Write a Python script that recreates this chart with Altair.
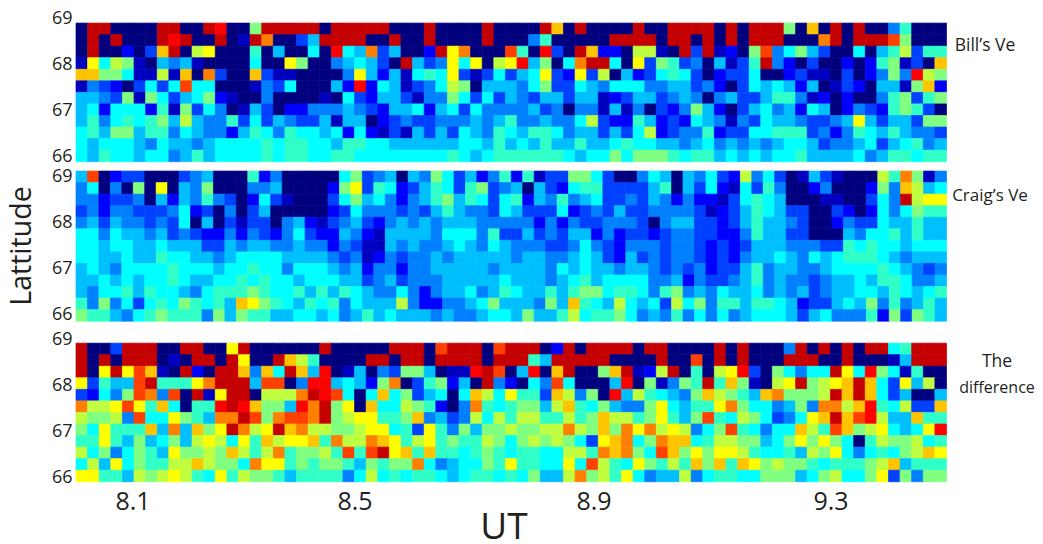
import altair as alt
import pandas as pd

JET = ["#00007f", "#0000bf", "#0000ff", "#0040ff", "#0080ff", "#00bfff", "#00ffff", "#30ffc8",
       "#80ff80", "#bfff40", "#ffff00", "#ffc400", "#ff8000", "#ff4000", "#ff0000", "#c40000"]

BILL = [
    "0ff00 00ff0 0fe00 8ffff f0fff ff000 f0000 f0000 fb0f0 000f0 0ffff 0f0ff f80b0 f0f00 47000",
    "0f0f0 00fef 00f01 fc003 5ffff 00f00 f0000 f0004 70000 0ffff 0ff0f 0f0ff f000c f0fff d8000",
    "0f002 03bf0 9a000 70500 60e65 c3500 2fac0 00d70 e30fb 22099 10f3f 1208d 46853 00605 79377",
    "1a698 10545 10000 600a8 00456 530f5 34a6a 09ae5 806cf f60a3 87340 5137f 42030 02027 8130b",
    "bb886 1191b 0c300 b3110 0004a 52516 76a31 36356 a32a3 90523 67630 23360 02311 03024 84e98",
    "14320 3636d 66000 14360 0052e 26513 46980 55546 83365 46664 45534 20365 65250 13205 518b2",
    "55438 18635 68210 04000 01063 25531 44863 63543 55355 12355 34540 45335 77412 02004 78378",
    "56266 62718 36401 53022 44454 32556 25636 44445 34044 15140 32485 20356 45265 02432 78730",
    "57467 67859 54473 63543 35155 02343 34445 45744 54469 32275 23265 41436 55433 45a53 55388",
    "67588 57746 54425 76476 65626 21315 35365 47657 76455 35369 23447 23366 77734 24765 75443",
    "65666 54655 45666 67677 66577 66555 55566 57565 75575 56766 55456 45454 56653 44563 56745",
    "65766 56645 75666 67677 66776 66666 66765 67777 77656 68688 87677 56565 66755 55645 77677",
]

CRAIG = [
    "5d023 30003 45000 72400 00068 34505 48635 24727 13388 63004 65054 63294 63015 31000 97c81 4",
    "46040 80a05 48000 44500 0028a 37623 57637 83450 53267 73333 57053 62163 74002 40002 84b95 6",
    "44233 40525 47430 26310 00368 56424 57857 63672 54745 63343 54242 21367 65000 11003 64f9a a",
    "34244 33346 23040 35000 00236 44434 35754 43653 33623 43533 44443 12357 65330 03202 64687 7",
    "45354 43436 05031 33045 21345 32454 54555 44444 24243 34443 04553 32357 55430 02433 65575 5",
    "66465 54534 32242 43246 32254 21555 54666 47335 34355 24233 23443 32247 55330 00546 67575 5",
    "66566 55655 53354 55445 44243 11545 44565 46544 43346 43244 43443 23235 55444 33767 66566 6",
    "66556 55766 55456 66655 55434 12434 45455 55545 54456 53253 43443 23245 56546 56777 65455 5",
    "56546 66676 66566 76646 66545 24424 45555 54555 54656 55455 43434 23357 45544 56666 76543 4",
    "55656 56676 55667 67665 66655 34534 44555 55655 54567 56666 44524 33457 45443 45565 77644 5",
    "54667 57665 46777 87667 57576 54464 24556 45765 57578 86776 47845 46556 45453 45566 57656 7",
    "74846 36768 7675b a8765 76746 55594 22445 68555 485b7 65965 63968 47757 76523 35658 47457 5",
    "87754 67877 74858 77556 65645 75655 54544 56658 55796 77864 54746 46456 66535 64447 28387 5",
]

DIFF = [
    "f003f ff00f f00af 00000 0f000 00fff 0dfff 0dfff 02f0f fff0f f0000 f0f00 04f0f 0f0ff 67fff",
    "f0f0f ff010 ff0fa 00fb9 70000 ff0ff 0ffff 0fff7 5ffff f0000 f00d0 f0f00 0fff0 0f000 15fff",
    "f0afa db10f 20ffb 4b6fb 5e015 04388 5011e fd05e 0bf00 8bf12 9f070 9ae30 86466 fa6e8 61700",
    "a3755 df777 acfff 5dd04 ee565 28c03 78250 f4206 4d600 05e08 1487f 7b810 9af89 abfb6 3a590",
    "32648 dc4d0 f1aff 0999c fed60 6b683 5606b 96a77 3b948 0e597 6548b 9875b c8889 fbfb6 35005",
    "c99ad a7b60 77efe b885e cf8a0 b6698 7204c 76788 59b76 85448 a6577 ac866 4584c c9be7 6933b",
    "98894 d66a8 75ccf d8cdd cf89a a778b 45349 69799 77978 b9978 a758d 76986 346ab fbde9 55b77",
    "86a77 7b5c5 b8afc 9afbc 99889 aa673 a7485 88988 99c98 b8cac 9a946 8d764 66b97 db89a 656ae",
    "77a75 85685 9a96a 7b9aa b7c99 cba79 a7877 98689 89863 abc68 cbb67 99885 68a8a 86079 88967",
    "96846 875a8 898b9 79c78 897d7 dfab7 b7767 87677 66997 cbc86 db8a8 aa976 67598 a6467 689ba",
    "695a6 87799 b9886 caa78 78875 8788c 64566 87a77 66a6d 976a8 797b8 b7ba8 98876 77789 b5777",
    "aa775 989a9 76a79 88757 77746 96767 76567 76768 559c8 97a64 55946 77668 88568 9668a 38488",
]

LAT_TICKS = [66, 67, 68, 69]
UT_START, UT_END = 8.0, 9.5
ROW_DEG = 0.25
PANEL_TOPS = [68.89, 69.107, 68.91]
PANEL_RANGES = [[148.6, 10], [306.6, 168], [469.6, 331]]
INK = "#231f20"
FONT = "Open Sans"


def table(rows, top):
    recs = []
    clean = [r.replace(" ", "") for r in rows]
    ncol = len(clean[0])
    dt = (UT_END - UT_START) / ncol
    for i, r in enumerate(clean):
        for j, ch in enumerate(r):
            recs.append({
                "ut0": UT_START + j * dt,
                "ut1": UT_START + (j + 1) * dt,
                "lat0": top - i * ROW_DEG,
                "lat1": top - (i + 1) * ROW_DEG,
                "v": int(ch, 16),
            })
    return pd.DataFrame(recs)


def panel(rows, top, rng):
    scale = alt.Scale(domain=list(range(16)), range=JET)
    return alt.Chart(table(rows, top)).mark_rect(strokeWidth=0.7).encode(
        x=alt.X("ut0:Q", scale=alt.Scale(domain=[UT_START, UT_END], nice=False, zero=False), axis=None),
        x2="ut1:Q",
        y=alt.Y("lat0:Q",
                scale=alt.Scale(domain=[66, 69], range=rng, nice=False, zero=False),
                axis=alt.Axis(orient="left", values=LAT_TICKS, title=None, domain=False, ticks=False,
                              grid=False, format="d", labelFont=FONT, labelFontSize=18, labelColor=INK,
                              labelPadding=4, labelOverlap=False)),
        y2="lat1:Q",
        color=alt.Color("v:O", scale=scale, legend=None),
        stroke=alt.Color("v:O", scale=scale, legend=None),
    )


def label(text, x, y, size, angle=0):
    return alt.Chart(pd.DataFrame({"t": [text]})).mark_text(
        font=FONT, fontSize=size, color=INK, align="center", baseline="middle", angle=angle
    ).encode(text="t:N", x=alt.value(x), y=alt.value(y))


texts = [
    label("8.1", 57, 494, 25), label("8.5", 279, 494, 25), label("8.9", 518, 494, 25), label("9.3", 755, 494, 25),
    label("UT", 428, 520, 37),
    label("Lattitude", -54, 238, 28.5, 270),
    label("Bill\u2019s Ve", 909, 38, 17.5),
    label("Craig\u2019s Ve", 914, 188, 17),
    label("The", 921, 354, 17.5),
    label("difference", 921, 380, 16),
]

layers = [panel(BILL, PANEL_TOPS[0], PANEL_RANGES[0]),
          panel(CRAIG, PANEL_TOPS[1], PANEL_RANGES[1]),
          panel(DIFF, PANEL_TOPS[2], PANEL_RANGES[2])]

chart = alt.layer(*layers, *texts).resolve_scale(y="independent").resolve_axis(y="independent").properties(
    width=870.5, height=528,
    padding={"left": 68, "top": 0, "right": 88.5, "bottom": 7},
    autosize=alt.AutoSizeParams(type="none"),
    background="white",
).configure_view(stroke=None)

chart.save("out.html", embed_options={"renderer": "svg", "actions": False})
